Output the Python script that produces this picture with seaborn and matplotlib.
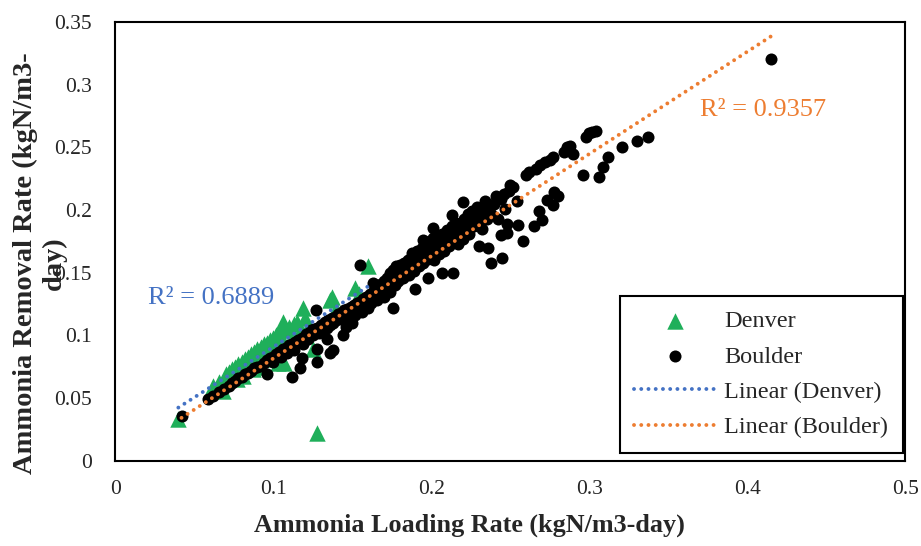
import numpy as np
import pandas as pd
import matplotlib
matplotlib.use("Agg")
import matplotlib.pyplot as plt
import seaborn as sns

# Boulder – loading rate (x) vs removal rate (y), kgN/m3-day
boulder_x = [
    0.042, 0.059, 0.062, 0.066, 0.069, 0.072, 0.074, 0.076, 0.078, 0.080,
    0.082, 0.084, 0.086, 0.088, 0.090, 0.092, 0.094, 0.096, 0.096, 0.098,
    0.100, 0.100,
    0.102, 0.104, 0.105, 0.106, 0.108, 0.109, 0.110, 0.112, 0.112, 0.113,
    0.114, 0.116, 0.117, 0.118, 0.118, 0.119, 0.120, 0.121, 0.122, 0.123,
    0.124, 0.125, 0.126, 0.127, 0.128, 0.128, 0.128, 0.129, 0.130, 0.131,
    0.132, 0.133, 0.134, 0.134, 0.135, 0.136, 0.136, 0.137, 0.138, 0.138,
    0.139, 0.140, 0.141, 0.142, 0.143, 0.144, 0.144, 0.145, 0.146, 0.146,
    0.147, 0.148, 0.149, 0.150, 0.150,
    0.151, 0.152, 0.153, 0.154, 0.155, 0.155, 0.156, 0.157, 0.158, 0.159,
    0.160, 0.160, 0.161, 0.162, 0.163, 0.163, 0.164, 0.165, 0.166, 0.166,
    0.167, 0.168, 0.169, 0.170, 0.170, 0.171, 0.172, 0.173, 0.174, 0.174,
    0.175, 0.176, 0.176, 0.177, 0.178, 0.178, 0.179, 0.180, 0.181, 0.182,
    0.183, 0.184, 0.185, 0.186, 0.187, 0.188, 0.188, 0.189, 0.190, 0.190,
    0.191, 0.192, 0.193, 0.194, 0.195, 0.195, 0.196, 0.197, 0.198, 0.198,
    0.199, 0.200, 0.201, 0.201,
    0.202, 0.203, 0.204, 0.205, 0.206, 0.207, 0.207, 0.208, 0.209, 0.210,
    0.211, 0.212, 0.213, 0.213, 0.214, 0.214, 0.215, 0.216, 0.217, 0.218,
    0.219, 0.220, 0.220, 0.221, 0.222, 0.223, 0.224, 0.225, 0.226, 0.227,
    0.228, 0.229, 0.230, 0.230, 0.231, 0.232, 0.233, 0.234, 0.235, 0.236,
    0.237, 0.238, 0.238, 0.240, 0.241, 0.242, 0.244, 0.244, 0.245, 0.246,
    0.247, 0.248, 0.248, 0.249, 0.250, 0.252, 0.254, 0.255, 0.258,
    0.260, 0.262, 0.265, 0.266, 0.268, 0.269, 0.270, 0.272, 0.273, 0.275,
    0.277, 0.277, 0.278, 0.280, 0.284, 0.286, 0.288, 0.290, 0.296, 0.298,
    0.300, 0.302, 0.304, 0.306, 0.309, 0.312, 0.321, 0.330, 0.337, 0.415,
]
boulder_y = [
    0.036, 0.049, 0.052, 0.055, 0.057, 0.060, 0.062, 0.064, 0.066, 0.067,
    0.069, 0.070, 0.072, 0.074, 0.075, 0.076, 0.078, 0.069, 0.080, 0.082,
    0.083, 0.079,
    0.085, 0.087, 0.083, 0.089, 0.090, 0.086, 0.092, 0.093, 0.067, 0.088,
    0.095, 0.096, 0.074, 0.098, 0.082, 0.093, 0.099, 0.101, 0.097, 0.102,
    0.104, 0.100, 0.105, 0.120, 0.079, 0.089, 0.106, 0.102, 0.108, 0.104,
    0.109, 0.111, 0.097, 0.106, 0.112, 0.086, 0.108, 0.114, 0.088, 0.110,
    0.115, 0.112, 0.117, 0.113, 0.118, 0.100, 0.115, 0.120, 0.107, 0.117,
    0.121, 0.118, 0.123, 0.110, 0.120,
    0.124, 0.116, 0.126, 0.121, 0.156, 0.127, 0.119, 0.129, 0.124, 0.131,
    0.122, 0.128, 0.133, 0.126, 0.142, 0.135, 0.130, 0.137, 0.128, 0.140,
    0.133, 0.141, 0.136, 0.143, 0.131, 0.139, 0.146, 0.141, 0.150, 0.135,
    0.145, 0.122, 0.152, 0.140, 0.148, 0.155, 0.143, 0.156, 0.150, 0.146,
    0.158, 0.152, 0.160, 0.148, 0.162, 0.156, 0.166, 0.151, 0.137, 0.160,
    0.167, 0.155, 0.163, 0.170, 0.158, 0.176, 0.166, 0.172, 0.146, 0.161,
    0.175, 0.168, 0.186, 0.178,
    0.160, 0.169, 0.178, 0.165, 0.173, 0.150, 0.181, 0.167, 0.176, 0.184,
    0.171, 0.179, 0.196, 0.187, 0.150, 0.175, 0.183, 0.190, 0.173, 0.181,
    0.187, 0.206, 0.177, 0.193, 0.185, 0.197, 0.181, 0.192, 0.199, 0.187,
    0.195, 0.202, 0.171, 0.190, 0.197, 0.185, 0.201, 0.207, 0.193, 0.170,
    0.204, 0.158, 0.197, 0.205, 0.211, 0.193, 0.180, 0.209, 0.162, 0.213,
    0.201, 0.189, 0.182, 0.215, 0.220, 0.218, 0.207, 0.188, 0.175,
    0.228, 0.230, 0.187, 0.233, 0.199, 0.236, 0.192, 0.238, 0.208, 0.240,
    0.204, 0.242, 0.214, 0.211, 0.246, 0.250, 0.251, 0.245, 0.228, 0.258,
    0.261, 0.262, 0.263, 0.226, 0.234, 0.242, 0.250, 0.255, 0.258, 0.320,
]

# Denver
denver_x = [
    0.040, 0.062, 0.066, 0.068, 0.070, 0.071, 0.072, 0.074, 0.075, 0.076,
    0.077, 0.078, 0.079, 0.080, 0.081, 0.082, 0.083, 0.084, 0.085, 0.086,
    0.087, 0.088, 0.089, 0.090, 0.091, 0.092, 0.093, 0.094, 0.095, 0.096,
    0.097, 0.098, 0.099, 0.100, 0.101, 0.102, 0.103, 0.104, 0.105, 0.106,
    0.106, 0.107, 0.108, 0.110, 0.112, 0.113, 0.115, 0.117, 0.119, 0.120,
    0.122, 0.125, 0.128, 0.136, 0.137, 0.140, 0.152, 0.154, 0.160,
]
denver_y = [
    0.033, 0.060, 0.063, 0.056, 0.069, 0.066, 0.071, 0.073, 0.068, 0.075,
    0.065, 0.077, 0.072, 0.079, 0.068, 0.081, 0.075, 0.083, 0.078, 0.085,
    0.073, 0.087, 0.081, 0.089, 0.075, 0.091, 0.084, 0.093, 0.088, 0.094,
    0.081, 0.096, 0.091, 0.098, 0.093, 0.100, 0.078, 0.102, 0.095, 0.104,
    0.111, 0.078, 0.105, 0.107, 0.099, 0.109, 0.111, 0.103, 0.122, 0.114,
    0.107, 0.089, 0.022, 0.128, 0.131, 0.121, 0.138, 0.133, 0.155,
]

x_ticks = [0, 0.1, 0.2, 0.3, 0.4, 0.5]
x_tick_labels = ["0", "0.1", "0.2", "0.3", "0.4", "0.5"]
y_ticks = [0, 0.05, 0.1, 0.15, 0.2, 0.25, 0.3, 0.35]
y_tick_labels = ["0", "0.05", "0.1", "0.15", "0.2", "0.25", "0.3", "0.35"]

denver = pd.DataFrame({"x": denver_x, "y": denver_y})
boulder = pd.DataFrame({"x": boulder_x, "y": boulder_y})

sns.set_style("white")
plt.rcParams["font.family"] = ["Liberation Serif", "DejaVu Serif"]

green = "#1FAF5A"
blue = "#4472C4"
orange = "#ED7D31"

fig = plt.figure(figsize=(9.21, 5.46), dpi=100)
ax = fig.add_axes([0.125, 0.156, 0.858, 0.804])

sns.scatterplot(data=denver, x="x", y="y", marker="^", s=140, color=green,
                linewidth=0, ax=ax, label="Denver", zorder=2)
sns.scatterplot(data=boulder, x="x", y="y", marker="o", s=75, color="black",
                linewidth=0, ax=ax, label="Boulder", zorder=3)

dot = (0, (0.01, 1.85))
sns.regplot(data=denver, x="x", y="y", scatter=False, ci=None, truncate=True,
            ax=ax, label="Linear (Denver)",
            line_kws=dict(color=blue, lw=2.8, linestyle=dot,
                          dash_capstyle="round", zorder=4))
sns.regplot(data=boulder, x="x", y="y", scatter=False, ci=None, truncate=True,
            ax=ax, label="Linear (Boulder)",
            line_kws=dict(color=orange, lw=2.8, linestyle=dot,
                          dash_capstyle="round", zorder=5))

ax.text(0.0205, 0.130, "R² = 0.6889", color=blue, fontsize=19, va="center")
ax.text(0.370, 0.280, "R² = 0.9357", color=orange, fontsize=19, va="center")

ax.set_xlim(0, 0.5)
ax.set_ylim(0, 0.35)
ax.set_xticks(x_ticks)
ax.set_xticklabels(x_tick_labels)
ax.set_yticks(y_ticks)
ax.set_yticklabels(y_tick_labels)
ax.tick_params(axis="both", length=0, labelsize=15.5)
ax.tick_params(axis="x", pad=14)
ax.tick_params(axis="y", pad=17)

ax.set_xlabel("Ammonia Loading Rate (kgN/m3-day)", fontsize=18.8, fontweight="bold")
ax.set_ylabel("Ammonia Removal Rate (kgN/m3-\nday)", fontsize=20.5, fontweight="bold")
ax.xaxis.set_label_coords(0.449, -0.12)
ax.yaxis.set_label_coords(-0.061, 0.45)

for sp in ax.spines.values():
    sp.set_color("black")
    sp.set_linewidth(1.5)

leg = ax.legend(loc="lower right", fontsize=17.5, frameon=True, fancybox=False,
                edgecolor="black", framealpha=1, labelspacing=0.55,
                handlelength=3.3, handletextpad=0.4, borderpad=0.6,
                borderaxespad=0, bbox_to_anchor=(0.997, 0.018))
leg.get_frame().set_linewidth(1.5)

fig.savefig("out.png", dpi=100)
